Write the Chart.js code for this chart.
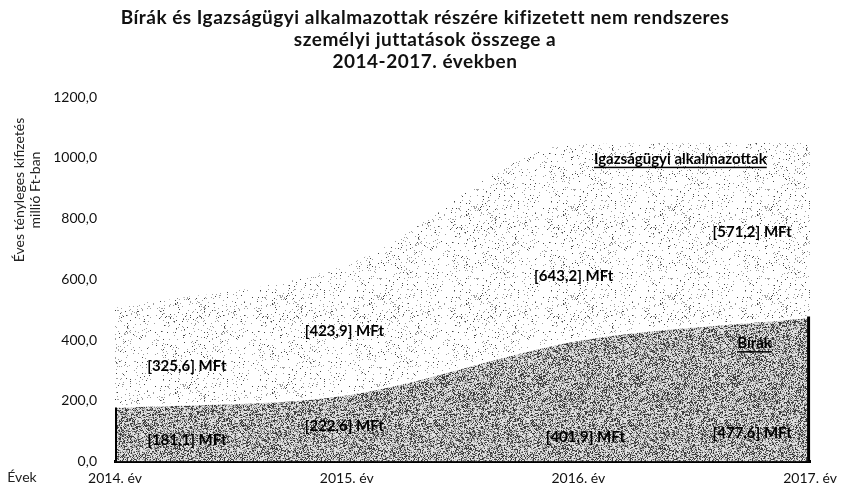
<!DOCTYPE html>
<html>
<head>
<meta charset="utf-8">
<script src="https://cdn.jsdelivr.net/npm/chart.js@4/dist/chart.umd.min.js"></script>
<style>
html,body{margin:0;padding:0;background:#fff;}
#wrap{width:845px;height:488px;position:relative;}
</style>
</head>
<body>
<div id="wrap"><canvas id="c" width="845" height="488"></canvas></div>
<script>
// ---- data ----
const categories = ["2014. év", "2015. év", "2016. év", "2017. év"];
const birak = [181.1, 222.6, 401.9, 477.6];
const igazsagugyi = [325.6, 423.9, 643.2, 571.2];
const seriesNames = ["Bírák", "Igazságügyi alkalmazottak"];
const yTicks = [0, 200, 400, 600, 800, 1000, 1200];
const titleLines = ["Bírák és Igazságügyi alkalmazottak részére kifizetett nem rendszeres", "személyi juttatások összege a", "2014-2017. években"];
const yTitleLines = ["Éves tényleges kifizetés", "millió Ft-ban"];
const xTitle = "Évek";

// ---- textures (deterministic hash noise) ----
function hash(x, y, s) {
  let h = (x * 374761393 + y * 668265263 + s * 1013904223) | 0;
  h = Math.imul(h ^ (h >>> 13), 1274126177);
  h = h ^ (h >>> 16);
  return (h >>> 0) / 4294967296;
}
function makePattern(kind) {
  const w = 97, h = 89;
  const cv = document.createElement('canvas');
  cv.width = w; cv.height = h;
  const g = cv.getContext('2d');
  const img = g.createImageData(w, h);
  for (let y = 0; y < h; y++) {
    for (let x = 0; x < w; x++) {
      const r = hash(x, y, kind === 'dark' ? 1 : 2);
      const r2 = hash(x, y, 5);
      let v;
      if (kind === 'dark') {
        const m = hash(Math.floor(x / 7), Math.floor(y / 4), 7);
        const t = 0.5 + m * 0.2;
        if (r2 < 0.35) v = 120 + Math.floor(r * 80);
        else v = r < t ? 225 : 60;
      } else {
        v = r < 0.07 ? (r2 < 0.3 ? 70 : 160) : 255;
      }
      const i = (y * w + x) * 4;
      img.data[i] = v; img.data[i + 1] = v; img.data[i + 2] = v; img.data[i + 3] = 255;
    }
  }
  g.putImageData(img, 0, 0);
  return g.createPattern(cv, 'repeat');
}
const ctx0 = document.getElementById('c').getContext('2d');
const darkPat = makePattern('dark');
const lightPat = makePattern('light');

const fmt = v => v.toFixed(1).replace('.', ',');

// label anchor positions (fractional category index, y value)
const labelPosBirak = [[0.31, 72], [0.99, 118], [2.03, 79], [2.75, 95]];
const labelPosIgazs = [[0.31, 315], [0.99, 429], [1.98, 610], [2.75, 754]];
const namePos = [[2.76, 390], [2.44, 997]];

const FONT = "Lato, 'Open Sans', sans-serif";

const overlay = {
  id: 'overlay',
  afterDatasetsDraw(chart) {
    const c = chart.ctx;
    const xs = chart.scales.x, ys = chart.scales.y;
    const meta = chart.getDatasetMeta(0);
    const p0 = meta.data[0], pN = meta.data[meta.data.length - 1];
    c.save();
    c.strokeStyle = '#000';
    c.lineWidth = 2;
    c.beginPath(); c.moveTo(p0.x + 1, ys.getPixelForValue(0)); c.lineTo(p0.x + 1, p0.y + 1); c.stroke();
    c.lineWidth = 3;
    c.beginPath(); c.moveTo(pN.x - 1.5, ys.getPixelForValue(0)); c.lineTo(pN.x - 1.5, pN.y); c.stroke();
    c.fillStyle = '#000';
    c.font = "bold 15px " + FONT;
    c.textAlign = 'center'; c.textBaseline = 'middle';
    birak.forEach((v, i) => {
      c.fillText('[' + fmt(v) + '] MFt', xs.getPixelForValue(labelPosBirak[i][0]), ys.getPixelForValue(labelPosBirak[i][1]));
    });
    igazsagugyi.forEach((v, i) => {
      c.fillText('[' + fmt(v) + '] MFt', xs.getPixelForValue(labelPosIgazs[i][0]), ys.getPixelForValue(labelPosIgazs[i][1]));
    });
    seriesNames.forEach((n, i) => {
      const x = xs.getPixelForValue(namePos[i][0]), y = ys.getPixelForValue(namePos[i][1]);
      c.fillText(n, x, y);
      const w = c.measureText(n).width;
      c.fillRect(x - w / 2, y + 8, w, 1.5);
    });
    c.restore();
  },
  afterDraw(chart) {
    const c = chart.ctx;
    c.save();
    c.fillStyle = '#111';
    c.textAlign = 'center'; c.textBaseline = 'middle';
    c.font = "bold 19px " + FONT;
    c.letterSpacing = '0.5px';
    titleLines.forEach((t, i) => c.fillText(t, 425, 18 + i * 22));
    c.letterSpacing = '0px';
    c.fillStyle = '#222';
    c.font = "14px " + FONT;
    c.fillText(xTitle, 22, 477);
    const cy = 190;
    [19, 35].forEach((x, i) => {
      c.save();
      c.translate(x, cy);
      c.rotate(-Math.PI / 2);
      c.fillText(yTitleLines[i], 0, 0);
      c.restore();
    });
    c.restore();
  }
};

new Chart(ctx0, {
  type: 'line',
  data: {
    labels: categories,
    datasets: [
      { label: seriesNames[0], data: birak, fill: 'origin', backgroundColor: darkPat,
        borderColor: '#ffffff', borderWidth: 3, pointRadius: 0, cubicInterpolationMode: 'monotone' },
      { label: seriesNames[1], data: igazsagugyi, fill: '-1', backgroundColor: lightPat,
        borderColor: 'rgba(0,0,0,0)', borderWidth: 0, pointRadius: 0, cubicInterpolationMode: 'monotone' }
    ]
  },
  options: {
    responsive: false,
    animation: false,
    layout: { padding: { left: 48, right: 30, top: 97, bottom: 4 } },
    plugins: {
      legend: { display: false },
      tooltip: { enabled: false },
      title: { display: false }
    },
    scales: {
      x: {
        offset: false,
        grid: { display: false, drawTicks: false },
        border: { display: true, color: '#000', width: 3 },
        afterFit: ax => { ax.height = 22; },
        ticks: { color: '#111', font: { family: FONT, size: 14 }, padding: 8, maxRotation: 0, autoSkip: false }
      },
      y: {
        stacked: true, min: 0, max: 1200,
        afterBuildTicks: ax => { ax.ticks = yTicks.map(v => ({ value: v })); },
        grid: { display: false, drawTicks: false },
        border: { display: false },
        afterFit: ax => { ax.width = 67; },
        ticks: { color: '#111', font: { family: FONT, size: 14 }, padding: 18, callback: v => fmt(v) }
      }
    }
  },
  plugins: [overlay]
});
</script>
</body>
</html>
